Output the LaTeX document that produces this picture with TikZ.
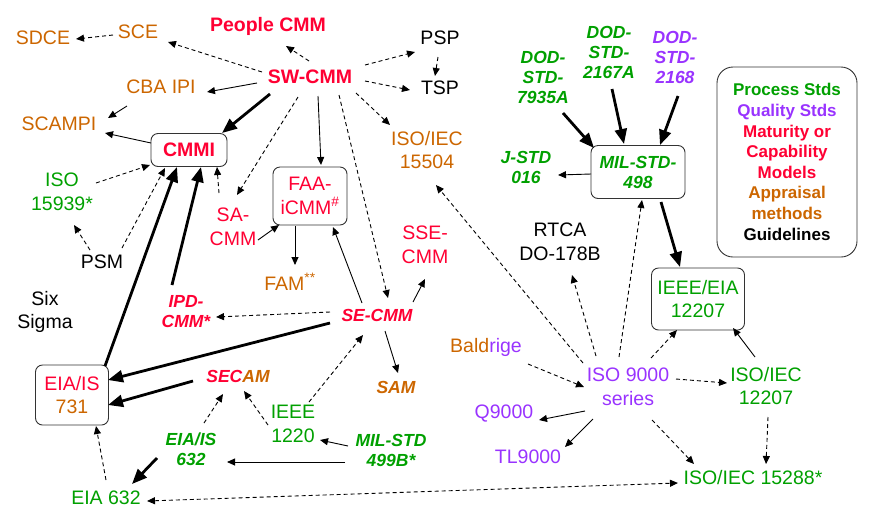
\documentclass[tikz,border=0pt]{standalone}
\usepackage{fontspec}
\setmainfont{Liberation Sans}
\usepackage{tikz}
\usetikzlibrary{arrows.meta,calc}
\definecolor{matred}{HTML}{FF0033}
\definecolor{apporange}{HTML}{CC6600}
\definecolor{procgreen}{HTML}{00A000}
\definecolor{qualpurple}{HTML}{9933FF}
\definecolor{boxgray}{HTML}{333333}
\newcommand{\labfont}{\fontsize{19.5}{23.5}\selectfont}
\newcommand{\italfont}{\fontsize{17.5}{20}\selectfont\bfseries\itshape}
\tikzset{lbl/.style={align=center,inner sep=0pt,font=\labfont},
  blbl/.style={lbl,font=\labfont\bfseries},
  ilbl/.style={align=center,inner sep=0pt,font=\italfont},
  stdbox/.style={draw=boxgray,rounded corners=7pt,line width=0.9pt,
    align=center,inner sep=0pt},
  ln/.style={-{Triangle[length=8pt,width=7pt]},line width=0.9pt},
  dln/.style={ln,dash pattern=on 4pt off 3pt},
  hvy/.style={-{Triangle[length=15pt,width=12pt]},line width=2.8pt}}

\begin{document}
\begin{tikzpicture}[x=1pt,y=-1pt]
 \useasboundingbox (0,0) rectangle (869,523);
 \node[lbl,text=apporange] (sdce) at (43,38) {SDCE};
 \node[lbl,text=apporange] (sce) at (138,32) {SCE};
 \node[blbl,text=matred] (people) at (268,26) {People CMM};
 \node[blbl,text=matred] (sw) at (310,77) {SW-CMM};
 \node[lbl] (psp) at (440,38) {PSP};
 \node[lbl] (tsp) at (440,88) {TSP};
 \node[lbl,text=apporange] (cba) at (161,87) {CBA IPI};
 \node[lbl,text=apporange] (scampi) at (59,124) {SCAMPI};
 \node[stdbox,font=\labfont\bfseries,text=matred,minimum width=76pt,
   minimum height=33pt] (cmmi) at (189,150) {CMMI};
 \node[lbl,text=procgreen] (iso15939) at (62,192) {ISO\\15939*};
 \node[lbl] (psm) at (102,262) {PSM};
 \node[lbl] (sixsig) at (45,312) {Six\\Sigma};
 \node[lbl,text=matred] (sacmm) at (233,227) {SA-\\CMM};
 \node[stdbox,font=\labfont,text=matred,minimum width=74pt,
   minimum height=58pt] (faa) at (310,196) {FAA-\\iCMM\textsuperscript{\#}};
 \node[lbl,text=apporange] (fam) at (290,282) {FAM\textsuperscript{**}};
 \node[lbl,text=apporange] (iso15504) at (427,150) {ISO/IEC\\15504};
 \node[lbl,text=matred] (sse) at (425,245) {SSE-\\CMM};
 \node[ilbl,text=matred] (secmm) at (377,315) {SE-CMM};
 \node[ilbl,text=matred] (ipd) at (186,312) {IPD-\\CMM*};
 \node[ilbl,text=apporange] (sam) at (396,387) {SAM};
 \node[stdbox,font=\labfont,minimum width=73pt,minimum height=60pt]
   (eia731) at (72,395) {\textcolor{matred}{EIA/IS}\\\textcolor{apporange}{731}};
 \node[ilbl] (secam) at (238,376)
   {\textcolor{matred}{SEC}\textcolor{apporange}{AM}};
 \node[lbl,text=procgreen] (ieee1220) at (293,424) {IEEE\\1220};
 \node[ilbl,text=procgreen] (eiais632) at (191,449) {EIA/IS\\632};
 \node[ilbl,text=procgreen] (mil499) at (391,450) {MIL-STD\\499B*};
 \node[lbl,text=procgreen] (eia632) at (106,498) {EIA 632};
 \node[ilbl,text=procgreen] (dod7935) at (543,77) {DOD-\\STD-\\7935A};
 \node[ilbl,text=procgreen] (dod2167) at (609,52) {DOD-\\STD-\\2167A};
 \node[ilbl,text=qualpurple] (dod2168) at (675,57) {DOD-\\STD-\\2168};
 \node[ilbl,text=procgreen] (jstd) at (526,167) {J-STD\\016};
 \node[stdbox,font=\italfont,text=procgreen,minimum width=94pt,
   minimum height=53pt] (mil498) at (638,172) {MIL-STD-\\498};
 \node[stdbox,rounded corners=16pt,font=\fontsize{17}{20.6}\selectfont\bfseries,
   minimum width=140pt,minimum height=190pt] (legend) at (787,162)
   {\textcolor{procgreen}{Process Stds}\\\textcolor{qualpurple}{Quality Stds}\\
    \textcolor{matred}{Maturity or}\\\textcolor{matred}{Capability}\\
    \textcolor{matred}{Models}\\\textcolor{apporange}{Appraisal}\\
    \textcolor{apporange}{methods}\\Guidelines};
 \node[lbl] (rtca) at (560,242) {RTCA\\DO-178B};
 \node[stdbox,font=\labfont,text=procgreen,minimum width=93pt,
   minimum height=62pt] (ieeeeia) at (698,299) {IEEE/EIA\\12207};
 \node[lbl] (baldrige) at (486,347)
   {\textcolor{apporange}{Bald}\textcolor{qualpurple}{rige}};
 \node[lbl,text=qualpurple] (iso9000) at (628,387) {ISO 9000\\series};
 \node[lbl,text=procgreen] (iso12207) at (766,386) {ISO/IEC\\12207};
 \node[lbl,text=qualpurple] (q9000) at (504,414) {Q9000};
 \node[lbl,text=qualpurple] (tl9000) at (528,457) {TL9000};
 \node[lbl,text=procgreen] (iso15288) at (753,478) {ISO/IEC 15288*};

 \draw[dln] ($(sce)+(-25,3)$) -- ($(sdce)+(33,1)$);
 \draw[dln] ($(sw)+(-48,-5)$) -- ($(sce)+(30,10)$);
 \draw[dln] ($(sw)+(-1,-16)$) -- ($(people)+(18,20)$);
 \draw[dln] ($(sw)+(55,-12)$) -- ($(psp)+(-25,14)$);
 \draw[dln] ($(psp)+(-2,19)$) -- ($(tsp)+(-5,-12)$);
 \draw[dln] ($(sw)+(55,4)$) -- ($(tsp)+(-30,2)$);
 \draw[ln] ($(sw)+(-53,6)$) -- ($(cba)+(46,5)$);
 \draw[hvy] ($(sw)+(-40,17)$) -- ($(cmmi)+(33,-17)$);
 \draw[dln] ($(sw)+(-12,20)$) -- ($(sacmm)+(4,-32)$);
 \draw[ln] ($(sw)+(8,19)$) -- ($(faa)+(11,-31)$);
 \draw[dln] ($(sw)+(29,18)$) -- ($(secmm)+(11,-17)$);
 \draw[dln] ($(sw)+(46,16)$) -- ($(iso15504)+(-37,-25)$);
 \draw[ln] ($(cba)+(-34,19)$) -- ($(scampi)+(49,-6)$);
 \draw[ln] ($(cmmi)+(-38,-7)$) -- ($(scampi)+(46,9)$);
 \draw[dln] ($(iso15939)+(34,-9)$) -- ($(cmmi)+(-39,15)$);
 \draw[dln] ($(psm)+(-12,-12)$) -- ($(iso15939)+(12,33)$);
 \draw[dln] ($(psm)+(20,-14)$) -- ($(cmmi)+(-24,18)$);
 \draw[hvy] ($(eia731)+(33,-29)$) -- ($(cmmi)+(-12,17)$);
 \draw[hvy] ($(ipd)+(-14,-27)$) -- ($(cmmi)+(12,17)$);
 \draw[dln] ($(sacmm)+(-14,-34)$) -- ($(cmmi)+(28,17)$);
 \draw[ln] ($(sacmm)+(25,13)$) -- ($(faa)+(-31,29)$);
 \draw[ln] ($(faa)+(-15,30)$) -- ($(fam)+(5,-17)$);
 \draw[ln] ($(secmm)+(-15,-12)$) -- ($(faa)+(23,31)$);
 \draw[ln] ($(secmm)+(36,-13)$) -- ($(sse)+(0,34)$);
 \draw[dln] ($(secmm)+(-47,-3)$) -- ($(ipd)+(30,5)$);
 \draw[hvy] ($(secmm)+(-47,8)$) -- ($(eia731)+(36,-15)$);
 \draw[ln] ($(secmm)+(8,16)$) -- ($(sam)+(2,-14)$);
 \draw[hvy] ($(secam)+(-45,5)$) -- ($(eia731)+(36,10)$);
 \draw[dln] ($(ieee1220)+(16,-22)$) -- ($(secmm)+(-14,20)$);
 \draw[dln] ($(ieee1220)+(-25,1)$) -- ($(secam)+(6,15)$);
 \draw[dln] ($(eiais632)+(13,-26)$) -- ($(secam)+(-15,18)$);
 \draw[hvy] ($(eiais632)+(-34,9)$) -- ($(eia632)+(26,-14)$);
 \draw[ln] ($(mil499)+(-43,-4)$) -- ($(ieee1220)+(27,16)$);
 \draw[ln] ($(mil499)+(-46,12)$) -- ($(eiais632)+(36,13)$);
 \draw[dln] ($(eia632)+(0,-18)$) -- ($(eia731)+(24,31)$);
 \draw[dln,{Triangle[length=8pt,width=7pt]}-{Triangle[length=8pt,width=7pt]}]
   ($(eia632)+(41,3)$) -- ($(iso15288)+(-75,5)$);
 \draw[dln] ($(iso9000)+(-45,-24)$) -- ($(iso15504)+(9,35)$);
 \draw[dln] ($(iso9000)+(-32,-31)$) -- ($(rtca)+(12,33)$);
 \draw[dln] ($(iso9000)+(-9,-30)$) -- ($(mil498)+(4,28)$);
 \draw[dln] ($(iso9000)+(23,-29)$) -- ($(ieeeeia)+(-21,31)$);
 \draw[dln] ($(iso9000)+(48,-8)$) -- ($(iso12207)+(-39,-3)$);
 \draw[ln] ($(iso9000)+(-43,24)$) -- ($(q9000)+(35,6)$);
 \draw[ln] ($(iso9000)+(-35,32)$) -- ($(tl9000)+(37,-10)$);
 \draw[dln] ($(iso9000)+(24,33)$) -- ($(iso15288)+(-59,-14)$);
 \draw[dln] ($(baldrige)+(42,17)$) -- ($(iso9000)+(-44,0)$);
 \draw[ln] ($(iso12207)+(-11,-29)$) -- ($(ieeeeia)+(35,29)$);
 \draw[dln] ($(iso12207)+(2,31)$) -- ($(iso15288)+(13,-14)$);
 \draw[hvy] ($(mil498)+(23,30)$) -- ($(ieeeeia)+(-18,-32)$);
 \draw[ln] ($(mil498)+(-47,2)$) -- ($(jstd)+(32,8)$);
 \draw[hvy] ($(dod7935)+(20,36)$) -- ($(mil498)+(-44,-24)$);
 \draw[hvy] ($(dod2167)+(3,37)$) -- ($(mil498)+(-14,-28)$);
 \draw[hvy] ($(dod2168)+(3,39)$) -- ($(mil498)+(22,-27)$);
\end{tikzpicture}
\end{document}
